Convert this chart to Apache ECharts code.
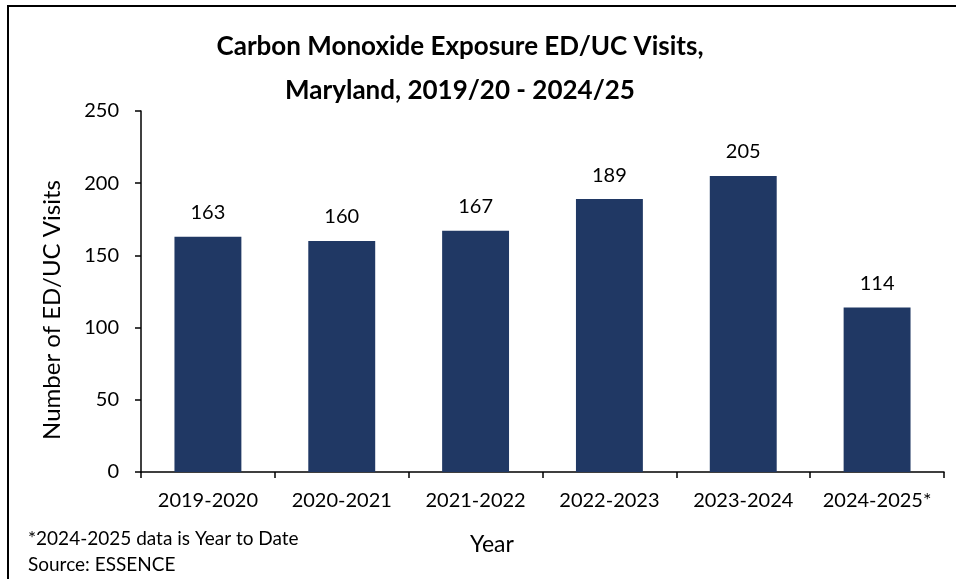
<!DOCTYPE html>
<html>
<head>
<meta charset="utf-8">
<script src="https://cdn.jsdelivr.net/npm/echarts@6/dist/echarts.min.js"></script>
<style>
html,body{margin:0;padding:0;background:#fff;}
#c{width:956px;height:579px;}
</style>
</head>
<body>
<div id="c"></div>
<script>
const categories = ['2019-2020','2020-2021','2021-2022','2022-2023','2023-2024','2024-2025*'];
const visits = [163, 160, 167, 189, 205, 114];
const yTicks = [0, 50, 100, 150, 200, 250];

const FONT = 'Lato';
const chart = echarts.init(document.getElementById('c'));
chart.setOption({
  backgroundColor: '#fff',
  animation: false,
  title: {
    text: 'Carbon Monoxide Exposure ED/UC Visits,\nMaryland, 2019/20 - 2024/25',
    left: 455, top: 20, textAlign: 'center',
    textStyle: {fontFamily: FONT, fontWeight: 'bold', fontSize: 26, lineHeight: 44, color: '#000'}
  },
  grid: {left: 141, right: 12, top: 111, bottom: 107},
  xAxis: {
    type: 'category',
    data: categories,
    axisLine: {lineStyle: {color: '#000', width: 1.5}},
    axisTick: {show: true, length: 6, alignWithLabel: false, interval: 0, lineStyle: {color: '#000', width: 1.5}},
    axisLabel: {fontFamily: FONT, fontSize: 20, color: '#000', margin: 19, interval: 0}
  },
  yAxis: {
    type: 'value', min: 0, max: 250, interval: 50,
    axisLine: {show: true, lineStyle: {color: '#000', width: 1.5}},
    axisTick: {show: true, length: 6, lineStyle: {color: '#000', width: 1.5}},
    splitLine: {show: false},
    axisLabel: {fontFamily: FONT, fontSize: 20, color: '#000', margin: 22,
      formatter: v => yTicks.includes(v) ? String(v) : ''}
  },
  series: [{
    type: 'bar',
    data: visits,
    barCategoryGap: '50%',
    itemStyle: {color: '#203864'},
    label: {show: true, position: 'top', distance: 14, fontFamily: FONT, fontSize: 20, color: '#000'}
  }],
  graphic: [
    {type: 'rect', shape: {x: 8, y: 6, width: 1000, height: 1000}, style: {fill: 'none', stroke: '#000', lineWidth: 2}, z: 100},
    {type: 'text', x: 52, y: 310, rotation: Math.PI / 2,
      style: {text: 'Number of ED/UC Visits', fontFamily: FONT, fontSize: 24, fill: '#000', align: 'center', verticalAlign: 'middle'}},
    {type: 'text', x: 492, y: 545,
      style: {text: 'Year', fontFamily: FONT, fontSize: 23, fill: '#000', align: 'center', verticalAlign: 'middle'}},
    {type: 'text', x: 28, y: 539, style: {text: '*2024-2025 data is Year to Date', fontFamily: FONT, fontSize: 19, fill: '#000', verticalAlign: 'middle'}},
    {type: 'text', x: 28, y: 565, style: {text: 'Source: ESSENCE', fontFamily: FONT, fontSize: 19, fill: '#000', verticalAlign: 'middle'}}
  ]
});
</script>
</body>
</html>
